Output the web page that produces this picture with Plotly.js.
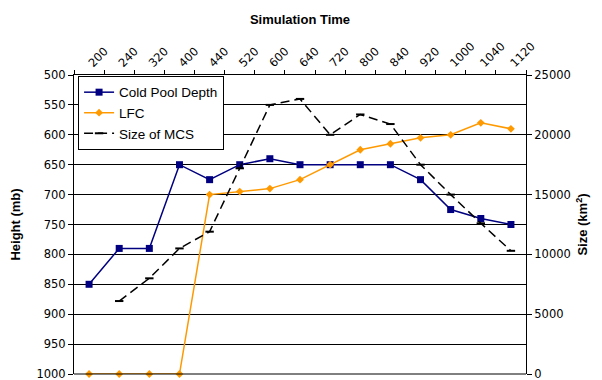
<!DOCTYPE html>
<html>
<head>
<meta charset="utf-8">
<script src="https://cdn.plot.ly/plotly-3.0.1.min.js"></script>
<style>html,body{margin:0;padding:0;background:#fff;}#chart{width:602px;height:380px;}</style>
</head>
<body>
<div id="chart"></div>
<script>
const times = ["200","240","320","400","440","520","600","640","720","800","840","920","1000","1040","1120"];
const coldPoolDepth = [850,790,790,650,675,650,640,650,650,650,650,675,725,740,750];
const lfc = [1000,1000,1000,1000,700,695,690,675,650,625,615,605,600,580,590];
const sizeMCS = [null,6100,8000,10500,11900,17200,22500,23000,20000,21700,20900,17500,15000,12600,10300];

const tickFont = {family: "DejaVu Sans, Arial, sans-serif", size: 11.5, color: "#000"};
const titleFont = {family: "Liberation Sans, Arial, sans-serif", size: 13, color: "#000", weight: "bold"};

const traces = [
  {x: times, y: coldPoolDepth, name: "Cold Pool Depth", type: "scatter", mode: "lines+markers", cliponaxis: false,
   line: {color: "#000080", width: 1.5}, marker: {symbol: "square", size: 7, color: "#000080"}, yaxis: "y"},
  {x: times, y: lfc, name: "LFC", type: "scatter", mode: "lines+markers", cliponaxis: false,
   line: {color: "#FF9900", width: 1.5}, marker: {symbol: "diamond", size: 6, color: "#FF9900"}, yaxis: "y"},
  {x: times, y: sizeMCS, name: "Size of MCS", type: "scatter", mode: "lines+markers", cliponaxis: false,
   line: {color: "#000", width: 1.5, dash: "9px,5px"},
   marker: {symbol: "line-ew", size: 6, line: {color: "#000", width: 2}}, yaxis: "y2", connectgaps: false}
];

const layout = {
  width: 602, height: 380,
  margin: {l: 74, r: 76, t: 75, b: 6, pad: 0},
  paper_bgcolor: "#fff", plot_bgcolor: "#fff",
  showlegend: true,
  legend: {x: 0.009, y: 0.997, xanchor: "left", yanchor: "top", bgcolor: "#fff",
    bordercolor: "#000", borderwidth: 1, font: {family: "Liberation Sans, Arial, sans-serif", size: 13.5, color: "#000"},
    tracegroupgap: 0},
  xaxis: {type: "category", side: "top", range: [-0.5, 14.5], showline: true, linecolor: "#000", linewidth: 1,
    ticks: "outside", ticklen: 4, tickcolor: "#000", tickson: "boundaries", showgrid: false,
    tickangle: -45, tickfont: tickFont,
    title: {text: "Simulation Time", font: titleFont, standoff: 11}},
  yaxis: {range: [1000, 500], dtick: 50, tick0: 500, showline: true, linecolor: "#000", linewidth: 1,
    ticks: "outside", ticklen: 5, tickcolor: "#000", showgrid: true, gridcolor: "#000", gridwidth: 1,
    zeroline: false, tickfont: tickFont, ticklabeloverflow: "allow",
    title: {text: "Height (mb)", font: titleFont, standoff: 12}},
  yaxis2: {overlaying: "y", side: "right", range: [0, 25000], dtick: 5000, showline: true, linecolor: "#000",
    linewidth: 1, ticks: "outside", ticklen: 5, tickcolor: "#000", showgrid: false, zeroline: false,
    tickfont: tickFont, tickformat: "d", ticklabeloverflow: "allow",
    title: {text: "Size (km<sup>2</sup>)", font: titleFont, standoff: 8}},
  shapes: [
    {type: "line", xref: "paper", yref: "y domain", x0: 0, x1: 1, y0: 0, y1: 0, line: {color: "#000", width: 1}}
  ]
};

Plotly.newPlot("chart", traces, layout, {displayModeBar: false, staticPlot: true});
</script>
</body>
</html>
